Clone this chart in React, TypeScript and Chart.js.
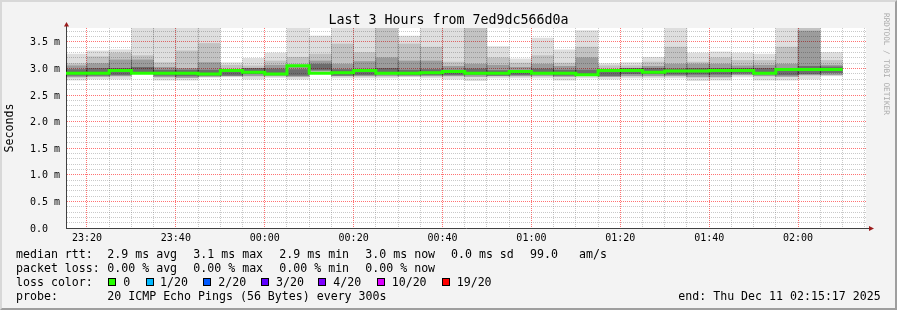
import React, { useEffect, useRef } from 'react';
import { Chart, registerables } from 'chart.js';

Chart.register(...registerables);

// ---------- text ----------
const TITLE = 'Last 3 Hours from 7ed9dc566d0a';
const Y_TITLE = 'Seconds';
const WATERMARK = 'RRDTOOL / TOBI OETIKER';

// ---------- time axis ----------
const windowStart = '23:15:17';
const windowEnd = '02:15:17';
const slotStarts = [
  '23:15', '23:20', '23:25', '23:30', '23:35', '23:40', '23:45', '23:50', '23:55',
  '00:00', '00:05', '00:10', '00:15', '00:20', '00:25', '00:30', '00:35', '00:40',
  '00:45', '00:50', '00:55', '01:00', '01:05', '01:10', '01:15', '01:20', '01:25',
  '01:30', '01:35', '01:40', '01:45', '01:50', '01:55', '02:00', '02:05',
];
const slotMinutes = 5;
const majorTickLabels = ['23:20', '23:40', '00:00', '00:20', '00:40', '01:00', '01:20', '01:40', '02:00'];
const yMajorLabels = ['0.0  ', '0.5 m', '1.0 m', '1.5 m', '2.0 m', '2.5 m', '3.0 m', '3.5 m'];
const yTop = 3.76;

// ---------- values (ms) ----------
const median = [
  2.91, 2.91, 2.91, 2.96, 2.91, 2.91, 2.91, 2.895, 2.96, 2.93, 2.895, 3.05, 2.91, 2.92, 2.96,
  2.91, 2.91, 2.92, 2.94, 2.91, 2.91, 2.94, 2.91, 2.91, 2.88, 2.96, 2.96, 2.93, 2.95, 2.95,
  2.96, 2.96, 2.91, 2.98, 2.98,
];
const smokeMax = [
  3.27, 3.33, 3.35, 3.8, 3.8, 3.8, 3.8, 3.11, 3.19, 3.29, 3.8, 3.61, 3.8, 3.8, 3.8,
  3.61, 3.8, 3.8, 3.8, 3.41, 3.18, 3.57, 3.35, 3.71, 3.09, 3.11, 3.21, 3.8, 3.29, 3.31,
  3.29, 3.27, 3.8, 3.8, 3.3,
];
const smokeP90 = [
  3.09, 3.22, 3.29, 3.24, 3.11, 3.33, 3.47, 3.06, 3.05, 3.14, 3.21, 3.27, 3.46, 3.3, 3.8,
  3.46, 3.4, 3.12, 3.8, 3.2, 3.1, 3.24, 3.1, 3.4, 3.05, 3.05, 3.12, 3.4, 3.12, 3.2,
  3.15, 3.15, 3.4, 3.8, 3.15,
];
const smokeP75 = [
  3.05, 3.09, 3.16, 3.16, 3.02, 3.0, 3.11, 2.98, 3.0, 3.06, 3.05, 3.14, 3.08, 3.13, 3.2,
  3.14, 3.14, 3.04, 3.08, 3.06, 3.02, 3.08, 3.04, 3.2, 2.98, 3.0, 3.04, 3.08, 3.08, 3.08,
  3.05, 3.06, 3.08, 3.7, 3.06,
];
const coreHi = [
  2.98, 3.0, 3.0, 3.02, 2.97, 2.97, 2.97, 2.95, 3.0, 2.99, 2.98, 3.08, 2.98, 2.98, 3.0,
  2.97, 2.98, 2.97, 2.99, 2.96, 2.96, 2.99, 2.97, 2.97, 2.94, 3.0, 3.0, 2.99, 3.0, 3.0,
  3.0, 3.0, 2.97, 3.04, 3.03,
];
const coreLo = [
  2.87, 2.87, 2.88, 2.93, 2.87, 2.86, 2.87, 2.87, 2.9, 2.89, 2.87, 2.97, 2.87, 2.88, 2.9,
  2.88, 2.88, 2.88, 2.89, 2.87, 2.88, 2.9, 2.87, 2.88, 2.86, 2.9, 2.9, 2.89, 2.89, 2.89,
  2.91, 2.9, 2.88, 2.9, 2.92,
];
const smokeP25 = [
  2.84, 2.85, 2.86, 2.93, 2.84, 2.83, 2.85, 2.86, 2.86, 2.86, 2.85, 2.95, 2.86, 2.86, 2.86,
  2.86, 2.86, 2.86, 2.85, 2.86, 2.86, 2.86, 2.85, 2.87, 2.85, 2.86, 2.86, 2.86, 2.84, 2.84,
  2.88, 2.86, 2.85, 2.88, 2.88,
];
const smokeMin = [
  2.78, 2.8, 2.8, 2.9, 2.78, 2.78, 2.83, 2.84, 2.8, 2.83, 2.8, 2.9, 2.82, 2.82, 2.82,
  2.84, 2.82, 2.8, 2.77, 2.82, 2.82, 2.82, 2.78, 2.82, 2.8, 2.82, 2.82, 2.82, 2.77, 2.78,
  2.84, 2.78, 2.78, 2.8, 2.86,
];

// ---------- legend text ----------
const rttLabel = 'median rtt:';
const rttStats = ['2.9 ms avg', '3.1 ms max', '2.9 ms min', '3.0 ms now', '0.0 ms sd', '99.0', 'am/s'];
const lossLabel = 'packet loss:';
const lossStats = ['0.00 % avg', '0.00 % max', '0.00 % min', '0.00 % now'];
const lossColorLabel = 'loss color:';
const lossLevels = ['0', '1/20', '2/20', '3/20', '4/20', '10/20', '19/20'];
const lossColors = ['#26ff00', '#00b8ff', '#0059ff', '#5e00ff', '#7e00ff', '#dd00ff', '#ff0000'];
const probeLabel = 'probe:';
const probeText = '20 ICMP Echo Pings (56 Bytes) every 300s';
const endText = 'end: Thu Dec 11 02:15:17 2025';

// layout positions (px)
const statX = [107.3, 193.3, 279.3, 365.3, 451, 530, 579];
const boxX = [108, 146, 203, 261, 318, 377, 442];
const levelX = [123.3, 160, 218.3, 276, 333.3, 391.7, 456.7];

const MONO = "'DejaVu Sans Mono', monospace";

function toMin(s: string): number {
  const p = s.split(':').map(Number);
  const h = p[0] < 12 ? p[0] + 24 : p[0];
  return (h - 23) * 60 + p[1] + (p[2] || 0) / 60;
}

const frame = {
  id: 'rrdFrame',
  beforeDraw(chart: any) {
    const { ctx, chartArea } = chart;
    const { left, top, right, bottom } = chartArea;
    ctx.save();
    ctx.fillStyle = '#ffffff';
    ctx.fillRect(left, top, right - left, bottom - top);
    ctx.restore();
  },
  afterDraw(chart: any) {
    const { ctx, chartArea } = chart;
    const { left, top, right, bottom } = chartArea;
    const ax = Math.round(left) + 0.5;
    const ay = Math.round(bottom) + 0.5;
    ctx.save();
    ctx.strokeStyle = '#404040';
    ctx.lineWidth = 1;
    ctx.beginPath();
    ctx.moveTo(ax, top);
    ctx.lineTo(ax, top - 4);
    ctx.moveTo(right, ay);
    ctx.lineTo(right + 3, ay);
    ctx.stroke();
    ctx.fillStyle = '#9b1c1c';
    ctx.beginPath();
    ctx.moveTo(ax - 2.5, top - 1.5);
    ctx.lineTo(ax + 2.5, top - 1.5);
    ctx.lineTo(ax, top - 6);
    ctx.closePath();
    ctx.fill();
    ctx.beginPath();
    ctx.moveTo(right + 3, ay - 2.5);
    ctx.lineTo(right + 3, ay + 2.5);
    ctx.lineTo(right + 8, ay);
    ctx.closePath();
    ctx.fill();
    ctx.restore();
  },
};

export default function App() {
  const ref = useRef<HTMLCanvasElement>(null);

  useEffect(() => {
    document.body.style.margin = '0';
    const canvas = ref.current;
    if (!canvas) return;

    const xMin = toMin(windowStart);
    const xMax = toMin(windowEnd);
    const starts = slotStarts.map(toMin);
    const centers = starts.map((s) => s + slotMinutes / 2);

    const band = (lo: number[], hi: number[]) => centers.map((c, i) => ({ x: c, y: [lo[i], hi[i]] }));
    const barDs = (label: string, lo: number[], hi: number[], color: string, order: number) => ({
      type: 'bar',
      label,
      data: band(lo, hi),
      backgroundColor: color,
      borderWidth: 0,
      grouped: false,
      barPercentage: 1,
      categoryPercentage: 1,
      order,
    });

    const medPts = starts.map((s, i) => ({ x: s, y: median[i] }));
    medPts.push({ x: starts[starts.length - 1] + slotMinutes, y: median[median.length - 1] });

    const xGrid: number[] = [];
    for (let v = Math.ceil(xMin / 5) * 5; v <= xMax + 1e-9; v += 5) xGrid.push(v);
    const yGrid: number[] = [];
    for (let i = 0; i * 0.1 <= yTop; i++) yGrid.push(Math.round(i) / 10);

    const majorX = majorTickLabels.map(toMin);
    const isMajorX = (v: number) => majorX.some((m) => Math.abs(m - v) < 1e-6);
    const isMajorY = (v: number) => Math.round(v * 10) % 5 === 0;
    const red = 'rgba(255,20,20,0.6)';
    const grey = 'rgba(120,120,120,0.4)';

    const chart = new Chart(canvas, {
      type: 'bar',
      data: {
        datasets: [
          barDs('min-max', smokeMin, smokeMax, 'rgba(0,0,0,0.13)', 4),
          barDs('p25-p90', smokeP25, smokeP90, 'rgba(0,0,0,0.12)', 3),
          barDs('p25-p75', smokeP25, smokeP75, 'rgba(0,0,0,0.2)', 2),
          barDs('core', coreLo, coreHi, 'rgba(0,0,0,0.3)', 1),
          {
            type: 'line',
            label: 'median',
            data: medPts,
            borderColor: '#26ff00',
            backgroundColor: '#26ff00',
            borderWidth: 3,
            pointRadius: 0,
            stepped: 'after',
            fill: false,
            order: 0,
          },
        ] as any,
      },
      options: {
        responsive: false,
        animation: false,
        devicePixelRatio: 1,
        layout: { padding: { left: 0, top: 28, right: 31, bottom: 62 } },
        plugins: {
          legend: { display: false },
          tooltip: { enabled: false },
          title: { display: false },
        },
        events: [],
        scales: {
          x: {
            type: 'linear',
            min: xMin,
            max: xMax,
            offset: false,
            afterBuildTicks: (s: any) => {
              s.ticks = xGrid.map((v) => ({ value: v }));
            },
            afterFit: (s: any) => {
              s.height = 20;
            },
            ticks: {
              autoSkip: false,
              maxRotation: 0,
              minRotation: 0,
              padding: 4,
              color: '#000',
              font: { family: MONO, size: 10 },
              callback: (v: any) => {
                const idx = majorX.findIndex((m) => Math.abs(m - v) < 1e-6);
                return idx >= 0 ? majorTickLabels[idx] : '';
              },
            },
            grid: {
              offset: false,
              drawTicks: false,
              lineWidth: 1,
              color: (c: any) => (c.tick && isMajorX(c.tick.value) ? red : grey),
            },
            border: { display: true, color: '#404040', width: 1, dash: [1, 1] },
          },
          y: {
            type: 'linear',
            min: 0,
            max: yTop,
            afterBuildTicks: (s: any) => {
              s.ticks = yGrid.map((v) => ({ value: v }));
            },
            afterFit: (s: any) => {
              s.width = 66;
            },
            ticks: {
              autoSkip: false,
              padding: 6,
              labelOffset: 1,
              color: '#000',
              font: { family: MONO, size: 10 },
              callback: (v: any) => (isMajorY(v) ? yMajorLabels[Math.round(v * 2)] || '' : ''),
            },
            grid: {
              drawTicks: false,
              lineWidth: 1,
              color: (c: any) => {
                const v = c.tick ? c.tick.value : 0;
                if (v < 1e-6) return 'rgba(0,0,0,0)';
                return isMajorY(v) ? red : grey;
              },
            },
            border: { display: true, color: '#404040', width: 1, dash: [1, 1] },
            title: {
              display: true,
              text: Y_TITLE,
              color: '#000',
              font: { family: MONO, size: 11.6 },
              padding: { top: 3, bottom: 0 },
            },
          },
        },
      } as any,
      plugins: [frame],
    });

    return () => chart.destroy();
  }, []);

  const txt: React.CSSProperties = {
    position: 'absolute',
    fontFamily: MONO,
    fontSize: '11.6px',
    lineHeight: '14px',
    color: '#000',
    whiteSpace: 'pre',
  };
  const lineTop = [247, 261, 275, 289];

  return (
    <div style={{ position: 'relative', width: 897, height: 310, background: '#f3f3f3', overflow: 'hidden' }}>
      <canvas ref={ref} width={897} height={310} style={{ position: 'absolute', left: 0, top: 0, width: 897, height: 310 }} />
      <div
        style={{
          position: 'absolute', left: 0, top: 12, width: 897, textAlign: 'center',
          fontFamily: MONO, fontSize: '13.3px', lineHeight: '16px', color: '#000', whiteSpace: 'pre',
        }}
      >
        {TITLE}
      </div>
      <div
        style={{
          position: 'absolute', left: 882, top: 13, writingMode: 'vertical-rl',
          fontFamily: MONO, fontSize: '7.7px', lineHeight: '9px', color: '#aaaaaa', whiteSpace: 'pre',
        }}
      >
        {WATERMARK}
      </div>

      <div style={{ ...txt, left: 16, top: lineTop[0] }}>{rttLabel}</div>
      {rttStats.map((s, i) => (
        <div key={'r' + i} style={{ ...txt, left: statX[i], top: lineTop[0] }}>{s}</div>
      ))}
      <div style={{ ...txt, left: 16, top: lineTop[1] }}>{lossLabel}</div>
      {lossStats.map((s, i) => (
        <div key={'l' + i} style={{ ...txt, left: statX[i], top: lineTop[1] }}>{s}</div>
      ))}
      <div style={{ ...txt, left: 16, top: lineTop[2] }}>{lossColorLabel}</div>
      {lossLevels.map((s, i) => (
        <React.Fragment key={'c' + i}>
          <div
            style={{
              position: 'absolute', left: boxX[i], top: 278, width: 8, height: 8,
              boxSizing: 'border-box', border: '1px solid #000', background: lossColors[i],
            }}
          />
          <div style={{ ...txt, left: levelX[i], top: lineTop[2] }}>{s}</div>
        </React.Fragment>
      ))}
      <div style={{ ...txt, left: 16, top: lineTop[3] }}>{probeLabel}</div>
      <div style={{ ...txt, left: statX[0], top: lineTop[3] }}>{probeText}</div>
      <div style={{ ...txt, left: 678.3, top: lineTop[3] }}>{endText}</div>

      <div
        style={{
          position: 'absolute', left: 0, top: 0, width: 897, height: 310, boxSizing: 'border-box',
          borderTop: '2px solid #d8d8d8', borderLeft: '2px solid #d8d8d8',
          borderBottom: '2px solid #9e9e9e', borderRight: '2px solid #9e9e9e', pointerEvents: 'none',
        }}
      />
    </div>
  );
}
